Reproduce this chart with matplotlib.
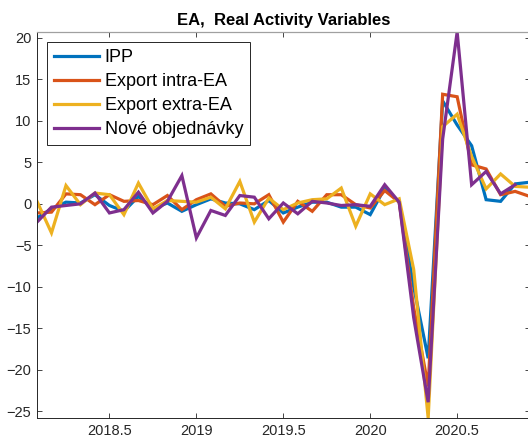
import numpy as np
import matplotlib
matplotlib.use("Agg")
import matplotlib.pyplot as plt

plt.rcParams['font.family'] = ['Liberation Sans', 'DejaVu Sans']

# monthly index, first observation Feb 2018 (x = year + month/12)
start_year = 2018
month_idx = np.arange(1, 36)
x = start_year + month_idx / 12.0

ipp = [-1.7, -0.6, 0.2, 0.1, 1.1, -0.2, -0.9, 0.9, -0.6, 0.1,
       -0.9, -0.1, 0.6, 0.1, 0.0, -0.7, 0.4, -1.1, -0.4, 0.2,
       0.2, -0.4, -0.4, -1.3, 1.9, 0.2, -10.0, -18.6, 12.4, 9.5,
       7.0, 0.5, 0.3, 2.4, 2.6]
exp_intra = [-1.1, -1.0, 1.2, 1.1, -0.1, 1.1, 0.3, 0.4, -0.1, 1.0,
             -0.7, 0.5, 1.2, -0.3, 0.1, 0.0, 1.1, -2.2, 0.3, -0.9,
             1.1, 1.1, -0.1, -0.5, 1.6, 0.2, -12.5, -22.0, 13.2, 12.9,
             4.7, 4.2, 1.1, 1.5, 0.9]
exp_extra = [0.3, -3.5, 2.2, -0.1, 1.3, 1.1, -1.3, 2.5, -0.6, 0.4,
             0.3, 0.2, 0.8, -0.6, 2.7, -2.2, 0.7, -0.7, 0.1, 0.5,
             0.6, 1.9, -2.7, 1.2, -0.1, 0.6, -7.9, -25.8, 9.3, 10.8,
             5.7, 1.8, 3.6, 2.1, 2.0]
new_orders = [-2.2, -0.4, -0.2, 0.0, 1.3, -1.1, -0.7, 1.4, -1.1, 0.3,
              3.4, -4.1, -0.8, -1.4, 1.0, 0.8, -1.8, 0.1, -1.2, 0.3,
              0.1, -0.2, -0.1, -0.3, 2.3, 0.2, -13.7, -23.9, 7.8, 20.7,
              2.3, 3.9, 1.2, 2.3, np.nan]

labels = ['IPP', 'Export intra-EA', 'Export extra-EA', 'Nové objednávky']
colors = ['#0072BD', '#D95319', '#EDB120', '#7E2F8E']
series = [ipp, exp_intra, exp_extra, new_orders]

xticks = [2018.5, 2019, 2019.5, 2020, 2020.5]
xticklabels = ['2018.5', '2019', '2019.5', '2020', '2020.5']
yticks = [-25, -20, -15, -10, -5, 0, 5, 10, 15, 20]

fig = plt.figure(figsize=(5.28, 4.45), dpi=100)
ax = fig.add_axes([37/528, 1-418/445, 1.003-37/528, (418-32)/445])

for s, c, l in zip(series, colors, labels):
    ax.plot(x, s, color=c, lw=2.3, label=l, solid_joinstyle='miter')

ax.set_xlim(start_year + 1/12, start_year + 35/12)
ax.set_ylim(-25.8, 20.7)
ax.set_xticks(xticks)
ax.set_xticklabels(xticklabels)
ax.set_yticks(yticks)
ax.tick_params(direction='in', length=3.6, width=0.6, colors='#262626',
               labelsize=10.5, top=True, right=True, pad=4)
for sp in ['left', 'bottom', 'right']:
    ax.spines[sp].set_color('#262626')
    ax.spines[sp].set_linewidth(0.7)
ax.spines['top'].set_color('#a0a0a0')
ax.spines['top'].set_linewidth(0.9)

ax.set_title('EA,  Real Activity Variables', fontsize=12, fontweight='bold',
             color='black', pad=5)

leg = ax.legend(loc='upper left', bbox_to_anchor=(0.02, 0.974), borderaxespad=0,
                fontsize=13, handlelength=2.5, handletextpad=0.3,
                labelspacing=0.38, fancybox=False, framealpha=1,
                edgecolor='#262626', borderpad=0.4)
leg.get_frame().set_linewidth(0.7)

fig.savefig('out.png', dpi=100)
